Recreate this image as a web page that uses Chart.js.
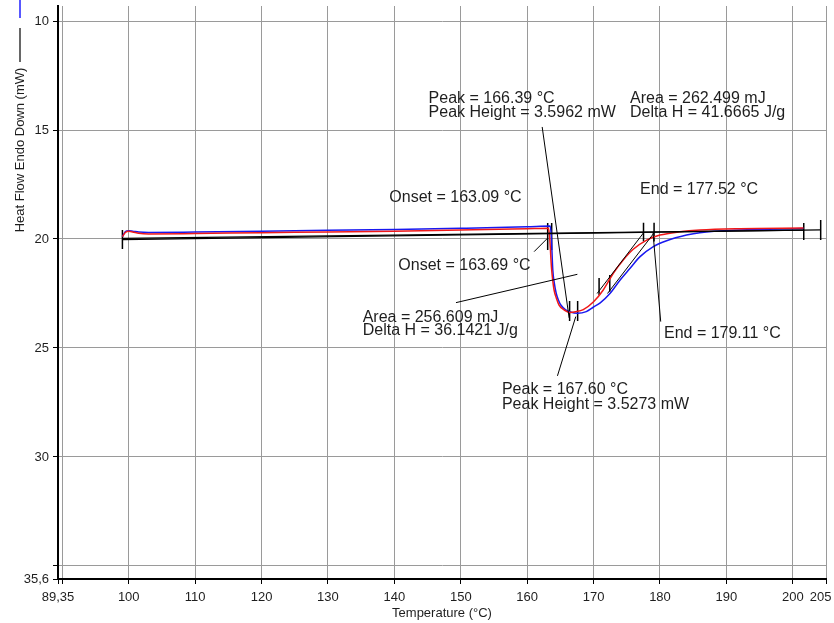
<!DOCTYPE html>
<html>
<head>
<meta charset="utf-8">
<script src="https://cdn.jsdelivr.net/npm/chart.js@4"></script>
<style>
  body { margin: 0; background: #fff; }
  #wrap { width: 834px; height: 623px; }
</style>
</head>
<body>
<div id="wrap"><canvas id="dsc" width="834" height="623"></canvas></div>
<script>
// axis ticks
const xTickVals = [89.35, 90, 100, 110, 120, 130, 140, 150, 160, 170, 180, 190, 200, 205];
const yTickVals = [10, 15, 20, 25, 30, 35, 35.6];

// red run (temperature / heat flow)
const redT = [99.05, 99.5, 100.0, 100.6, 101.5, 103, 110, 120, 130, 140, 150, 160, 163.2,
  163.38, 163.65, 163.85, 164.05, 164.4, 164.8, 165.4, 166.4, 167.3, 168.45, 170.0, 171.46,
  172.97, 174.47, 175.97, 178.0, 180.0, 183.0, 186.0, 192.0, 201.6];
const redV = [19.89, 19.70, 19.65, 19.68, 19.74, 19.77, 19.75, 19.71, 19.68, 19.64, 19.59, 19.53, 19.51,
  19.9, 21.27, 21.9, 22.34, 22.72, 23.03, 23.22, 23.37, 23.34, 23.24, 22.88, 22.34,
  21.57, 20.96, 20.47, 20.05, 19.82, 19.67, 19.59, 19.53, 19.50];

// blue run
const blueT = [99.05, 99.5, 100.0, 100.6, 101.5, 103, 110, 120, 130, 140, 150, 160, 163.45,
  163.62, 163.86, 164.1, 164.37, 164.7, 165.07, 165.8, 166.5, 167.6, 168.9, 170.0, 171.0,
  172.5, 174.0, 175.5, 177.0, 179.0, 181.0, 184.0, 186.0, 192.0, 201.6];
const blueV = [19.89, 19.66, 19.62, 19.64, 19.68, 19.70, 19.68, 19.64, 19.60, 19.56, 19.51, 19.44, 19.40,
  19.8, 21.42, 22.05, 22.49, 22.8, 23.03, 23.25, 23.35, 23.41, 23.33, 23.12, 22.93,
  22.49, 21.88, 21.34, 20.81, 20.35, 20.08, 19.82, 19.71, 19.59, 19.52];

// analysis marks, each segment [[T1, v1], [T2, v2]]
const baselines = [
  [[99.05, 19.97], [201.65, 19.59]],
  [[99.05, 20.03], [204.2, 19.58]]
];
const tickBars = [
  [[99.05, 19.59], [99.05, 20.46]],
  [[201.65, 19.27], [201.65, 20.05]],
  [[204.2, 19.13], [204.2, 20.05]],
  [[163.09, 19.27], [163.09, 20.5]],
  [[163.69, 19.27], [163.69, 20.5]],
  [[177.52, 19.25], [177.52, 20.12]],
  [[179.11, 19.25], [179.11, 20.12]],
  [[166.39, 22.84], [166.39, 23.76]],
  [[167.60, 22.84], [167.60, 23.76]],
  [[170.83, 21.79], [170.83, 22.57]],
  [[172.44, 21.65], [172.44, 22.42]]
];
const tangents = [
  [[170.53, 22.50], [177.52, 19.72]],
  [[172.1, 22.50], [179.11, 19.72]]
];
const leaders = [
  [[162.26, 14.86], [166.32, 23.62]],
  [[164.56, 26.28], [167.32, 23.56]],
  [[149.28, 22.92], [167.56, 21.62]],
  [[161.05, 20.58], [163.05, 19.97]],
  [[180.11, 23.79], [178.95, 19.72]]
];

// result labels, anchored at [T, v] (left / middle)
const labelText = [
  'Peak = 166.39 °C', 'Peak Height = 3.5962 mW',
  'Area = 262.499 mJ', 'Delta H = 41.6665 J/g',
  'Onset = 163.09 °C', 'End = 177.52 °C',
  'Onset = 163.69 °C',
  'Area = 256.609 mJ', 'Delta H = 36.1421 J/g',
  'End = 179.11 °C',
  'Peak = 167.60 °C', 'Peak Height = 3.5273 mW'
];
const labelT = [145.16, 145.16, 175.49, 175.49, 139.25, 177.0, 140.6, 135.23, 135.23, 180.6, 156.2, 156.2];
const labelV = [13.55, 14.21, 13.55, 14.21, 18.1, 17.72, 21.2, 23.61, 24.22, 24.34, 26.9, 27.58];

const FONT = "'Liberation Sans', Arial, sans-serif";
const TEXT = '#1e1e1e';

function toPoints(ts, vs) {
  return ts.map((t, i) => ({ x: t, y: vs[i] }));
}

function segSets(list, width) {
  return list.map(s => ({
    data: [{ x: s[0][0], y: s[0][1] }, { x: s[1][0], y: s[1][1] }],
    borderColor: '#000',
    borderWidth: width,
    pointRadius: 0,
    showLine: true,
    tension: 0
  }));
}

const datasets = [
  ...segSets(baselines, 1.3),
  ...segSets(tangents, 1),
  ...segSets(leaders, 1),
  {
    data: toPoints(redT, redV),
    borderColor: '#f01818',
    borderWidth: 1.5,
    pointRadius: 0,
    showLine: true,
    cubicInterpolationMode: 'monotone'
  },
  {
    data: toPoints(blueT, blueV),
    borderColor: '#1818f0',
    borderWidth: 1.5,
    pointRadius: 0,
    showLine: true,
    cubicInterpolationMode: 'monotone'
  },
  ...segSets(tickBars, 1.5)
];

const extras = {
  id: 'extras',
  afterDatasetsDraw(chart) {
    const ctx = chart.ctx;
    const xs = chart.scales.x;
    const ys = chart.scales.y;
    ctx.save();
    ctx.fillStyle = TEXT;
    ctx.font = '16px ' + FONT;
    ctx.textAlign = 'left';
    ctx.textBaseline = 'middle';
    labelText.forEach((txt, i) => {
      ctx.fillText(txt, xs.getPixelForValue(labelT[i]), ys.getPixelForValue(labelV[i]));
    });

    // y title, sits high on the left with its little legend strokes
    ctx.save();
    ctx.translate(20, 150);
    ctx.rotate(-Math.PI / 2);
    ctx.font = '13px ' + FONT;
    ctx.textAlign = 'center';
    ctx.fillText('Heat Flow Endo Down (mW)', 0, 0);
    ctx.restore();

    ctx.lineWidth = 1.2;
    ctx.strokeStyle = '#000';
    ctx.beginPath();
    ctx.moveTo(20, 28);
    ctx.lineTo(20, 62);
    ctx.stroke();
    ctx.strokeStyle = '#2020ff';
    ctx.lineWidth = 1.5;
    ctx.beginPath();
    ctx.moveTo(20, 0);
    ctx.lineTo(20, 18);
    ctx.stroke();
    ctx.restore();
  }
};

new Chart(document.getElementById('dsc'), {
  type: 'scatter',
  data: { datasets },
  options: {
    responsive: false,
    animation: false,
    layout: { padding: { top: 6, right: 8, left: 0, bottom: 0 } },
    plugins: {
      legend: { display: false },
      tooltip: { enabled: false }
    },
    scales: {
      x: {
        type: 'linear',
        min: 89.35,
        max: 205,
        afterBuildTicks: s => { s.ticks = xTickVals.map(v => ({ value: v })); },
        afterFit: s => { s.height = 44; s.paddingLeft = 0; s.paddingRight = 0; },
        ticks: {
          autoSkip: false,
          maxRotation: 0,
          padding: 6,
          color: TEXT,
          font: { family: FONT, size: 13 },
          // last label is nudged left (trailing spaces) so it stays on the page
          callback: v => v === 89.35 ? '89,35' : (v === 90 ? '' : (v === 205 ? '205   ' : String(v)))
        },
        grid: { color: '#9a9a9a', lineWidth: 1, tickColor: '#000', tickLength: 5 },
        border: { color: '#000', width: 2 },
        title: {
          display: true,
          text: 'Temperature (°C)',
          color: TEXT,
          font: { family: FONT, size: 13 },
          padding: { top: 0, bottom: 2 }
        }
      },
      y: {
        type: 'linear',
        reverse: true,
        min: 9.31,
        max: 35.6,
        afterBuildTicks: s => { s.ticks = yTickVals.map(v => ({ value: v })); },
        afterFit: s => { s.width = 58; s.paddingTop = 0; s.paddingBottom = 0; },
        ticks: {
          padding: 4,
          color: TEXT,
          font: { family: FONT, size: 13 },
          callback: v => v === 35.6 ? '35,6' : (v === 35 ? '' : String(v))
        },
        grid: { color: '#9a9a9a', lineWidth: 1, tickColor: '#000', tickLength: 5 },
        border: { color: '#000', width: 2 }
      }
    }
  },
  plugins: [extras]
});
</script>
</body>
</html>
